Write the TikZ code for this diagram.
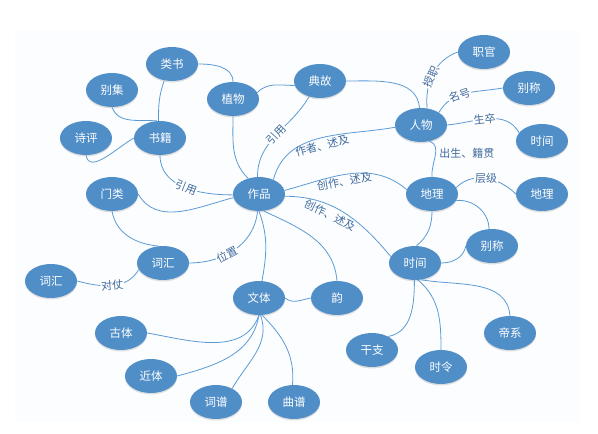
\documentclass[tikz,border=0pt]{standalone}
\usepackage{fontspec}
\setmainfont{Noto Sans CJK SC}
\usetikzlibrary{shapes.geometric,shadows}
\definecolor{nodeblue}{RGB}{80,142,200}
\definecolor{edgeblue}{RGB}{91,155,213}
\definecolor{labblue}{RGB}{62,106,158}
\definecolor{bgtint}{RGB}{252,253,254}
\tikzset{
  ent/.style={ellipse, fill=nodeblue, text=white, minimum width=52pt, minimum height=34pt, inner sep=0pt,
    font=\fontsize{11.5}{11.5}\selectfont,
    drop shadow={shadow xshift=0pt, shadow yshift=-1.5pt, opacity=0.2, fill=black!60}},
  conn/.style={draw=edgeblue, line width=0.8pt},
  lab/.style={fill=white, text=labblue, inner sep=0.8pt, font=\fontsize{11}{11}\selectfont},
  sidelab/.style={text=labblue, inner sep=1.5pt, font=\fontsize{11}{11}\selectfont},
}
\begin{document}
\begin{tikzpicture}[x=1pt,y=1pt]
\useasboundingbox (0,0) rectangle (598,434);
\fill[bgtint] (15,12) rectangle (580,404);
% nodes
\node[ent] (leishu) at (172,370) {类书};
\node[ent] (bieji) at (112,344) {别集};
\node[ent] (zhiwu) at (233,335) {植物};
\node[ent] (diangu) at (320,353) {典故};
\node[ent] (shiping) at (86,296) {诗评};
\node[ent] (shuji) at (160,296) {书籍};
\node[ent] (menlei) at (112,240) {门类};
\node[ent] (zuopin) at (259,240) {作品};
\node[ent] (renwu) at (421,309) {人物};
\node[ent] (zhiguan) at (484,382) {职官};
\node[ent] (biechengA) at (529,346) {别称};
\node[ent] (shijianA) at (542,293) {时间};
\node[ent] (dili) at (432,240) {地理};
\node[ent] (diliB) at (542,240) {地理};
\node[ent] (cihuiL) at (51,153) {词汇};
\node[ent] (cihui) at (163,171) {词汇};
\node[ent] (wenti) at (259,136) {文体};
\node[ent] (guti) at (121,101) {古体};
\node[ent] (jinti) at (151,58) {近体};
\node[ent] (cipu) at (216,32) {词谱};
\node[ent] (qupu) at (294,32) {曲谱};
\node[ent] (yun) at (337,136) {韵};
\node[ent] (shijian) at (415,171) {时间};
\node[ent] (biecheng) at (492,188) {别称};
\node[ent] (ganzhi) at (372,84) {干支};
\node[ent] (shiling) at (441,67) {时令};
\node[ent] (dixi) at (510,101) {帝系};
% connectors
\draw[conn] (leishu.245) to[out=250,in=90] (shuji.95);
\draw[conn] (leishu.east) to[out=0,in=90] (zhiwu.north);
\draw[conn] (bieji.south) to[out=-70,in=175] (shuji.100);
\draw[conn] (shiping.-90) to[out=-80,in=210] (shuji.west);
\draw[conn] (shuji.south) to[out=-90,in=180] node[lab,sloped,pos=0.52]{引用} (zuopin.182);
\draw[conn] (zhiwu.south) to[out=-90,in=135] (zuopin.125);
\draw[conn] (zhiwu.15) to[out=45,in=180] (diangu.190);
\draw[conn] (diangu.east) to[out=0,in=95] (renwu.95);
\draw[conn] (zuopin.95) to[out=90,in=240] node[lab,sloped,pos=0.5]{引用} (diangu.235);
\draw[conn] (zuopin.45) to[out=75,in=190] node[sidelab,sloped,below=1pt,pos=0.5]{作者、述及} (renwu.185);
\draw[conn] (zuopin.8) to[out=15,in=140] node[sidelab,sloped,below,pos=0.45]{创作、述及} (dili.170);
\draw[conn] (zuopin.-5) to[out=0,in=130] node[sidelab,sloped,below=2pt,pos=0.4]{创作、述及} (shijian.165);
\draw[conn] (menlei.east) to[out=-60,in=195] (zuopin.188);
\draw[conn] (zuopin.-95) to[out=-95,in=0] node[lab,sloped,pos=0.6]{位置} (cihui.east);
\draw[conn] (menlei.south) to[out=-80,in=175] (cihui.105);
\draw[conn] (cihuiL.east) to[out=-15,in=240] node[lab,sloped,pos=0.5]{对仗} (cihui.195);
\draw[conn] (zuopin.-90) to[out=-70,in=80] (wenti.80);
\draw[conn] (zuopin.-75) to[out=-25,in=95] (yun.north);
\draw[conn] (wenti.east) to[out=-40,in=190] (yun.west);
\draw[conn] (wenti.south) to[out=-110,in=-10] (guti.east);
\draw[conn] (wenti.south) to[out=-100,in=15] (jinti.east);
\draw[conn] (wenti.-85) to[out=-70,in=60] (cipu.40);
\draw[conn] (wenti.-80) to[out=-45,in=85] (qupu.95);
\draw[conn] (renwu.70) to[out=95,in=200] node[lab,sloped,pos=0.45]{授职} (zhiguan.west);
\draw[conn] (renwu.35) to[out=60,in=190] node[lab,sloped,pos=0.4]{名号} (biechengA.west);
\draw[conn] (renwu.east) to[out=5,in=120] node[lab,sloped,pos=0.45]{生卒} (shijianA.160);
\draw[conn] (renwu.-62) to[out=-20,in=95] node[sidelab,right,pos=0.45,xshift=2pt]{出生、籍贯} (dili.north);
\draw[conn] (dili.15) to[out=45,in=135] node[lab,pos=0.5]{层级} (diliB.west);
\draw[conn] (dili.-15) to[out=5,in=90] (biecheng.100);
\draw[conn] (dili.south) to[out=-90,in=40] (shijian.85);
\draw[conn] (shijian.east) to[out=0,in=260] (biecheng.west);
\draw[conn] (shijian.-92) to[out=-90,in=10] (ganzhi.40);
\draw[conn] (shijian.-80) to[out=-40,in=90] (shiling.north);
\draw[conn] (shijian.-70) to[out=-10,in=95] (dixi.north);
\end{tikzpicture}
\end{document}
